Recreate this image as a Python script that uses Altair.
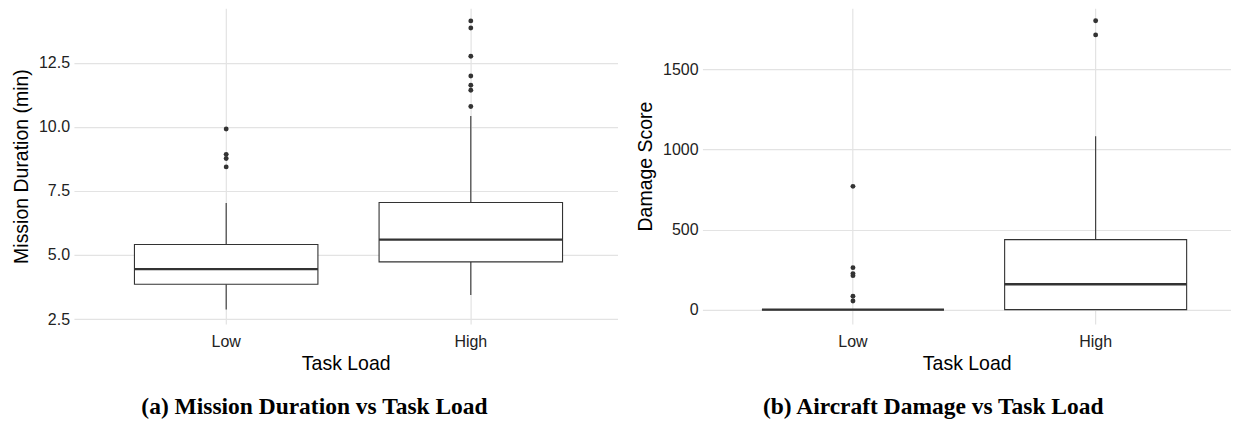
import altair as alt
import pandas as pd

# ---------------- data ----------------
categories = ["Low", "High"]

# (a) Mission duration (min): box-plot summary per task load
dur_lower = [2.87, 3.44]
dur_q1 = [3.86, 4.73]
dur_median = [4.45, 5.60]
dur_q3 = [5.41, 7.05]
dur_upper = [7.03, 10.43]
dur_outliers_low = [9.92, 8.93, 8.77, 8.44]
dur_outliers_high = [10.80, 11.43, 11.63, 11.99, 12.76, 13.86, 14.14]

# (b) Damage score: box-plot summary per task load
dmg_lower = [0, 0]
dmg_q1 = [0, 0]
dmg_median = [0, 158]
dmg_q3 = [0, 437]
dmg_upper = [0, 1083]
dmg_outliers_low = [770, 262, 225, 212, 83, 54]
dmg_outliers_high = [1716, 1804]

dur_ticks = [2.5, 5.0, 7.5, 10.0, 12.5]
dmg_ticks = [0, 500, 1000, 1500]

# ---------------- styling ----------------
INK = "#333333"
GRID = "#e3e3e3"
SANS = "Liberation Sans"
SERIF = "Liberation Serif"


def summary_df(lower, q1, med, q3, upper):
    return pd.DataFrame({"task": categories, "lower": lower, "q1": q1,
                         "median": med, "q3": q3, "upper": upper})


def outlier_df(low, high):
    return pd.DataFrame({"task": ["Low"] * len(low) + ["High"] * len(high),
                         "value": list(low) + list(high)})


def panel(summary, outliers, ytitle, domain, ticks, fmt, caption, width, height,
          pad_outer, align):
    xscale = alt.Scale(domain=categories, paddingInner=0.25,
                       paddingOuter=pad_outer, align=align)
    xaxis = alt.Axis(title="Task Load", grid=True, bandPosition=0.5,
                     labelAngle=0)
    yscale = alt.Scale(domain=domain, nice=False, zero=False)
    yaxis = alt.Axis(title=ytitle, values=ticks, format=fmt, grid=True)

    def X():
        return alt.X("task:N", scale=xscale, sort=categories, axis=xaxis)

    def Y(field):
        return alt.Y(field, scale=yscale, axis=yaxis, type="quantitative")

    base = alt.Chart(summary)
    whisk_lo = base.mark_rule(color=INK, strokeWidth=1.1).encode(
        x=X(), y=Y("lower"), y2=alt.Y2("q1"))
    whisk_hi = base.mark_rule(color=INK, strokeWidth=1.1).encode(
        x=X(), y=Y("q3"), y2=alt.Y2("upper"))
    box = base.mark_bar(fill="white", stroke=INK, strokeWidth=1.1).encode(
        x=X(), y=Y("q1"), y2=alt.Y2("q3"))
    med = base.mark_bar(fill=INK, stroke=INK, strokeWidth=2.4).encode(
        x=X(), y=Y("median"), y2=alt.Y2("median"))
    pts = alt.Chart(outliers).mark_circle(size=24, color=INK, opacity=1).encode(
        x=X(), y=Y("value"))

    return alt.layer(whisk_lo, whisk_hi, box, med, pts).properties(
        width=width, height=height,
        title=alt.TitleParams(caption, orient="bottom", anchor="middle",
                              frame="bounds", font=SERIF, fontSize=23.5,
                              fontWeight="bold", color="black", offset=22),
    )


left = panel(summary_df(dur_lower, dur_q1, dur_median, dur_q3, dur_upper),
             outlier_df(dur_outliers_low, dur_outliers_high),
             "Mission Duration (min)", [2.309, 14.637], dur_ticks, ".1f",
             "(a) Mission Duration vs Task Load", 544, 316, 0.236, 0.524)

right = panel(summary_df(dmg_lower, dmg_q1, dmg_median, dmg_q3, dmg_upper),
              outlier_df(dmg_outliers_low, dmg_outliers_high),
              "Damage Score", [-89.4, 1883], dmg_ticks, "d",
              "(b) Aircraft Damage vs Task Load", 529, 316, 0.214, 0.573)

chart = alt.hconcat(left, right, spacing=18).properties(
    padding={"left": 3, "top": 0, "right": 0, "bottom": 0}
).configure_view(stroke=None).configure_axis(
    domain=False, ticks=False, gridColor=GRID, gridWidth=1.2,
    labelFont=SANS, labelFontSize=16, labelColor="#222222",
    titleFont=SANS, titleFontSize=19.5, titleFontWeight="normal",
    titleColor="black",
).configure_axisY(labelPadding=4.4, titlePadding=7).configure_axisX(
    labelPadding=10, titlePadding=5)

chart.save("out.html", embed_options={"renderer": "svg", "actions": False})
